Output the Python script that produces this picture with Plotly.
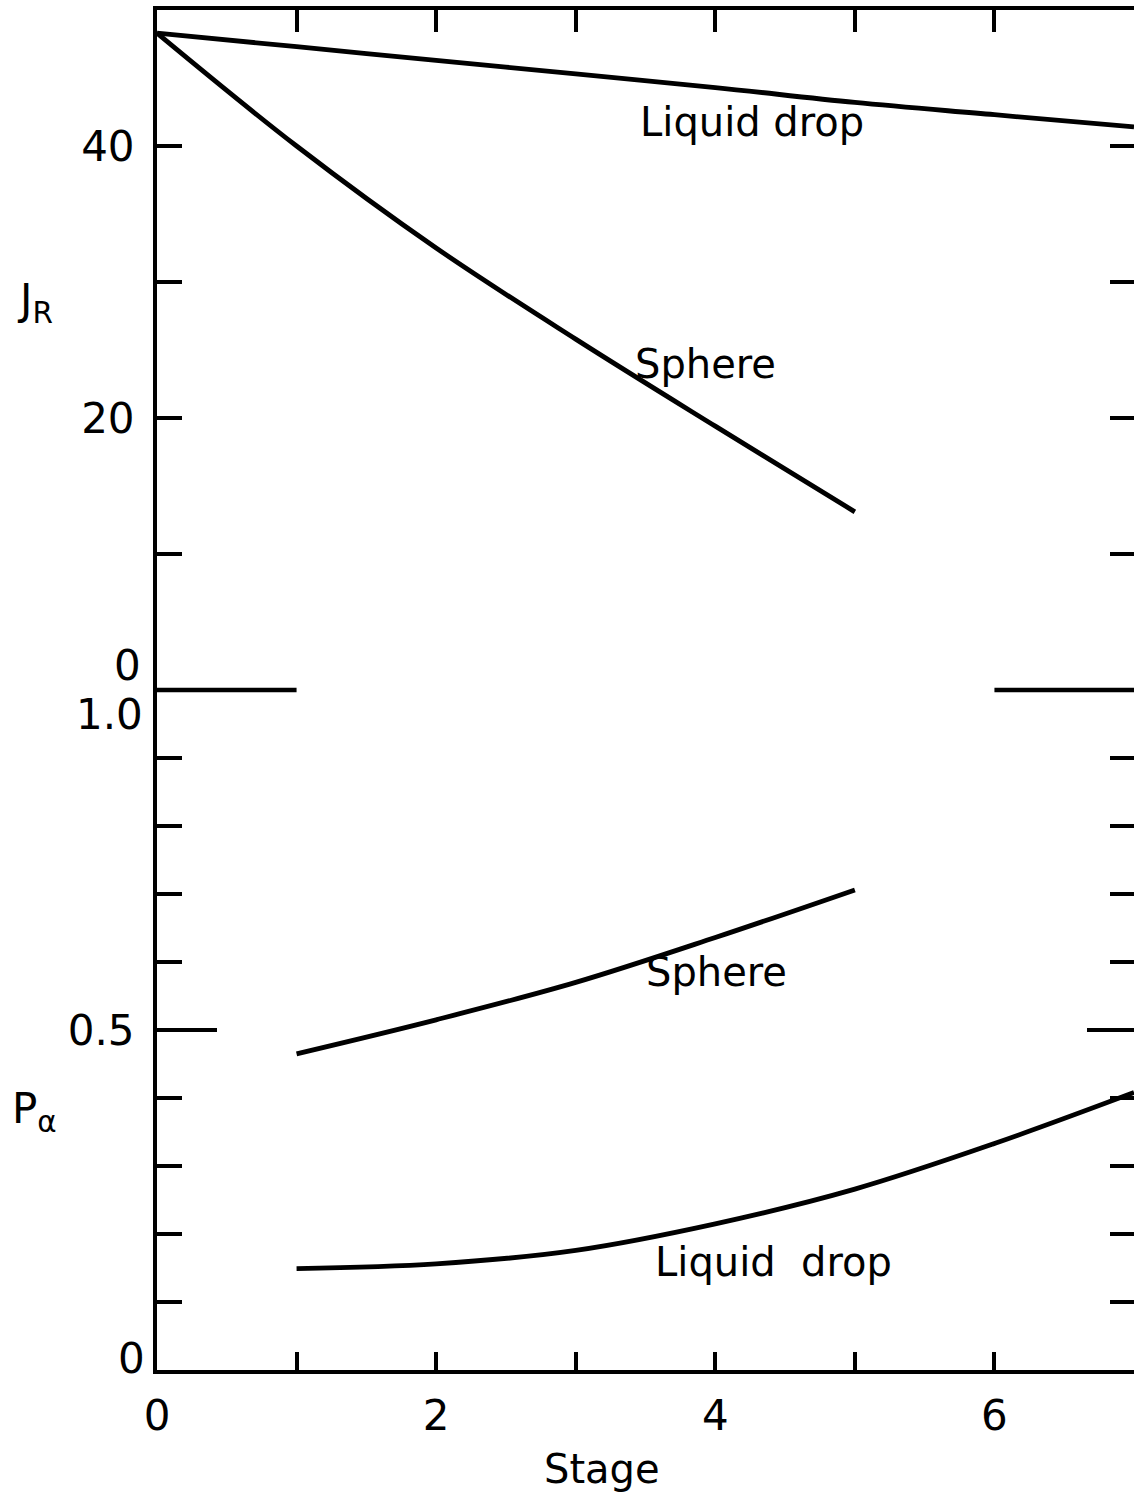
import plotly.graph_objects as go

# ---- data ----
stage_top = [0, 1, 2, 3, 4, 5, 6, 7]
jr_liquid = [48.3, 47.3, 46.3, 45.3, 44.3, 43.2, 42.3, 41.4]
stage_sphere_top = [0, 1, 2, 3, 4, 5]
jr_sphere = [48.3, 40.0, 32.5, 25.8, 19.4, 13.1]

stage_sphere_bot = [1, 2, 3, 4, 5]
pa_sphere = [0.465, 0.515, 0.570, 0.636, 0.706]
stage_liquid_bot = [1, 2, 3, 4, 5, 6, 7]
pa_liquid = [0.149, 0.156, 0.176, 0.215, 0.266, 0.333, 0.408]

x_tickvals = [0, 2, 4, 6]
x_ticktext = ["0", "2", "4", "6"]
x_minor = [1, 3, 5]
top_x_ticks = [1, 2, 3, 4, 5, 6]
jr_major = [20, 40]
jr_minor = [10, 30]
jr_ticks = [10, 20, 30, 40]
pa_minor = [0.1, 0.2, 0.3, 0.4, 0.6, 0.7, 0.8, 0.9]

FONT = "DejaVu Sans"
BLK = "black"
LW = 4.8

fig = go.Figure()

fig.add_trace(go.Scatter(x=stage_top, y=jr_liquid, mode="lines", xaxis="x2", yaxis="y2",
                         line=dict(color=BLK, width=LW, shape="spline"), showlegend=False))
fig.add_trace(go.Scatter(x=stage_sphere_top, y=jr_sphere, mode="lines", xaxis="x2", yaxis="y2",
                         line=dict(color=BLK, width=LW, shape="spline"), showlegend=False))
fig.add_trace(go.Scatter(x=stage_sphere_bot, y=pa_sphere, mode="lines", xaxis="x", yaxis="y",
                         line=dict(color=BLK, width=LW, shape="spline"), showlegend=False))
fig.add_trace(go.Scatter(x=stage_liquid_bot, y=pa_liquid, mode="lines", xaxis="x", yaxis="y",
                         line=dict(color=BLK, width=LW, shape="spline"), showlegend=False))
# empty traces to activate right-hand overlay axes
fig.add_trace(go.Scatter(x=[None], y=[None], xaxis="x", yaxis="y3", showlegend=False, hoverinfo="skip"))
fig.add_trace(go.Scatter(x=[None], y=[None], xaxis="x2", yaxis="y4", showlegend=False, hoverinfo="skip"))

tickfont = dict(family=FONT, size=42, color=BLK)

fig.update_layout(
    width=1134, height=1497,
    margin=dict(l=157, r=0, t=10, b=127),
    paper_bgcolor="white", plot_bgcolor="white",
    showlegend=False,
    xaxis=dict(range=[0, 7], anchor="y", domain=[0, 1], showline=True, linecolor=BLK, linewidth=4,
               ticks="inside", ticklen=18, tickwidth=3.5, tickcolor=BLK,
               tickvals=x_tickvals, ticktext=x_ticktext, tickfont=tickfont,
               minor=dict(tickvals=x_minor, ticks="inside", ticklen=18, tickwidth=3.5, tickcolor=BLK),
               showgrid=False, zeroline=False, ticklabelstandoff=6),
    xaxis2=dict(range=[0, 7], anchor="y2", matches="x", side="top", showline=True, linecolor=BLK,
                linewidth=4, ticks="inside", ticklen=22, tickwidth=3.5, tickcolor=BLK,
                tickvals=top_x_ticks, showticklabels=False, showgrid=False, zeroline=False),
    yaxis=dict(range=[0, 1], domain=[0, 0.5], anchor="x", showline=True, linecolor=BLK, linewidth=4,
               ticks="inside", ticklen=60, tickwidth=3.5, tickcolor=BLK,
               tickvals=[0.5], ticktext=["0.5"], tickfont=tickfont,
               minor=dict(tickvals=pa_minor, ticks="inside", ticklen=25, tickwidth=3.5, tickcolor=BLK),
               showgrid=False, zeroline=False, ticklabelstandoff=10),
    yaxis2=dict(range=[0, 50], domain=[0.5, 1], anchor="x2", showline=True, linecolor=BLK, linewidth=4,
                ticks="inside", ticklen=25, tickwidth=3.5, tickcolor=BLK,
                tickvals=jr_major, ticktext=[str(v) for v in jr_major], tickfont=tickfont,
                minor=dict(tickvals=jr_minor, ticks="inside", ticklen=25, tickwidth=3.5, tickcolor=BLK),
                showgrid=False, zeroline=False, ticklabelstandoff=10),
    yaxis3=dict(range=[0, 1], overlaying="y", side="right", anchor="x", showline=False,
                ticks="inside", ticklen=47, tickwidth=3.5, tickcolor=BLK,
                tickvals=[0.5], showticklabels=False,
                minor=dict(tickvals=pa_minor, ticks="inside", ticklen=24, tickwidth=3.5, tickcolor=BLK),
                showgrid=False, zeroline=False),
    yaxis4=dict(range=[0, 50], overlaying="y2", side="right", anchor="x2", showline=False,
                ticks="inside", ticklen=24, tickwidth=3.5, tickcolor=BLK,
                tickvals=jr_ticks, showticklabels=False, showgrid=False, zeroline=False),
)

# partial divider between panels (at the panel joint)
fig.add_shape(type="line", xref="x", yref="paper", x0=0, x1=1, y0=0.5, y1=0.5,
              line=dict(color=BLK, width=4.5))
fig.add_shape(type="line", xref="x", yref="paper", x0=6, x1=7, y0=0.5, y1=0.5,
              line=dict(color=BLK, width=4.5))

lab = dict(family=FONT, size=40, color=BLK)
ann = [
    dict(text="Liquid drop", x=4.26, y=41.8, xref="x2", yref="y2"),
    dict(text="Sphere", x=3.93, y=24.0, xref="x2", yref="y2"),
    dict(text="Sphere", x=4.01, y=0.585, xref="x", yref="y"),
    dict(text="Liquid  drop", x=4.42, y=0.159, xref="x", yref="y"),
]
for a in ann:
    fig.add_annotation(showarrow=False, font=lab, xanchor="center", yanchor="middle", **a)

# offset tick labels at the panel joint
fig.add_annotation(text="0", x=0, y=0, xref="x2", yref="y2", xanchor="right", yanchor="bottom",
                   xshift=-14, yshift=-2, showarrow=False, font=tickfont)
fig.add_annotation(text="1.0", x=0, y=1, xref="x", yref="y", xanchor="right", yanchor="top",
                   xshift=-12, yshift=2, showarrow=False, font=tickfont)
fig.add_annotation(text="0", x=0, y=0, xref="x", yref="y", xanchor="right", yanchor="middle",
                   xshift=-10, yshift=12, showarrow=False, font=tickfont)

# axis titles
fig.add_annotation(text="J<sub>R</sub>", x=-0.125, y=0.785, xref="paper", yref="paper",
                   xanchor="center", yanchor="middle", showarrow=False, font=dict(family=FONT, size=42, color=BLK))
fig.add_annotation(text="P<sub>α</sub>", x=-0.125, y=0.19, xref="paper", yref="paper",
                   xanchor="center", yanchor="middle", showarrow=False, font=dict(family=FONT, size=42, color=BLK))
fig.add_annotation(text="Stage", x=(602 - 157) / 977, y=-0.073, xref="paper", yref="paper",
                   xanchor="center", yanchor="middle", showarrow=False, font=dict(family=FONT, size=40, color=BLK))

fig.write_html("out.html")
